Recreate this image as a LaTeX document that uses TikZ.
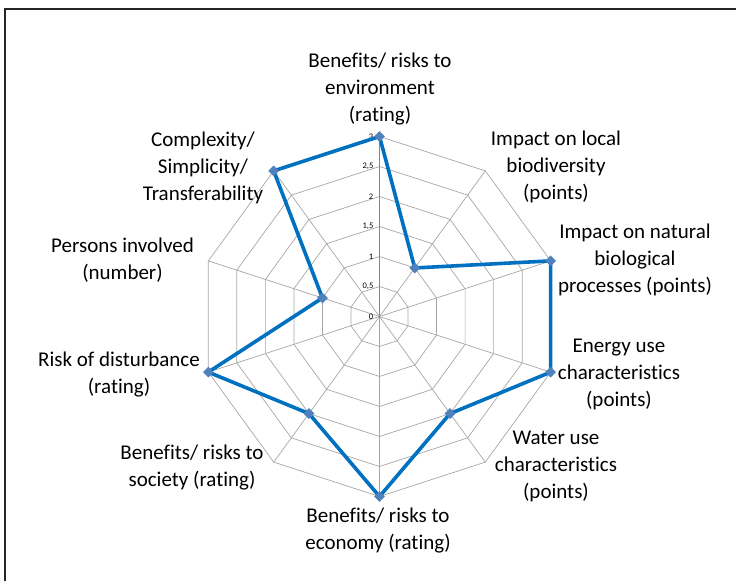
\documentclass[tikz,border=0pt]{standalone}
\usepackage{fontspec}
\setmainfont{Carlito}[Ligatures={NoCommon,NoContextual}]
\usetikzlibrary{shapes.geometric}
\definecolor{serblue}{HTML}{0070C0}
\definecolor{mkblue}{HTML}{4F81BD}
\definecolor{gridgray}{HTML}{A6A6A6}
\definecolor{axisgray}{HTML}{868686}
\begin{document}
\begin{tikzpicture}[x=1pt,y=1pt,
  lab/.style={align=center,inner sep=0pt,font=\fontsize{21}{27}\selectfont},
  ticklab/.style={anchor=east,inner sep=0pt,font=\fontsize{8.5}{10}\selectfont},
  gridline/.style={draw=gridgray,line width=0.7pt},
  axisline/.style={draw=axisgray,line width=0.8pt},
  series/.style={draw=serblue,line width=3.6pt,line join=miter},
  marker/.style={diamond,fill=mkblue,inner sep=0pt,minimum width=11pt,minimum height=11pt}]
\useasboundingbox (0,-581) rectangle (736,0);
\coordinate (tl) at (5,-9);
\coordinate (bl) at (5,-581);
\coordinate (tr) at (736,-9);
\draw[black!85,line width=1.8pt] (bl) -- (tl) -- (tr);
\coordinate (O) at (379.5,-316.5);
\begin{scope}[shift={(379.5,-316.5)}]
  \foreach \r in {30,60,...,180} {
    \draw[gridline] (90:\r) \foreach \k [evaluate=\k as \a using 90-36*\k] in {1,...,9} { -- (\a:\r) } -- cycle;
  }
  \foreach \k [evaluate=\k as \a using 90-36*\k] in {1,...,9} {
    \draw[gridline] (0,0) -- (\a:180);
  }
  \draw[axisline] (0,0) -- (90:180);
  \foreach \t/\txt [count=\j from 0] in {0/0,30/{0,5},60/1,90/{1,5},120/2,150/{2,5},180/3} {
    \node[ticklab] (t\j) at (-6,\t) {\txt};
  }
  \foreach \v [count=\i from 0, evaluate=\i as \a using 90-36*\i] in {3,1,3,3,2,3,2,3,1,3} {
    \coordinate (d\i) at (\a:60*\v);
  }
\end{scope}
\draw[series] (d0) -- (d1) -- (d2) -- (d3) -- (d4) -- (d5) -- (d6) -- (d7) -- (d8) -- (d9) -- cycle;
\foreach \i in {0,...,9} { \node[marker] (m\i) at (d\i) {}; }
\node[lab] (env) at (380,-89.5) {Benefits/ risks to\\environment\\(rating)};
\node[lab] (bio) at (556,-166.5) {Impact on local\\biodiversity\\(points)};
\node[lab] (nat) at (635,-259.5) {Impact on natural\\biological\\processes (points)};
\node[lab] (ene) at (619,-374.5) {Energy use\\characteristics\\(points)};
\node[lab] (wat) at (556,-466.5) {Water use\\characteristics\\(points)};
\node[lab] (eco) at (378,-530.5) {Benefits/ risks to\\economy (rating)};
\node[lab] (soc) at (192,-468) {Benefits/ risks to\\society (rating)};
\node[lab] (dis) at (119,-375) {Risk of disturbance\\(rating)};
\node[lab] (per) at (122.5,-260) {Persons involved\\(number)};
\node[lab] (com) at (203,-167.5) {Complexity/\\Simplicity/\\Transferability};
\end{tikzpicture}
\end{document}
